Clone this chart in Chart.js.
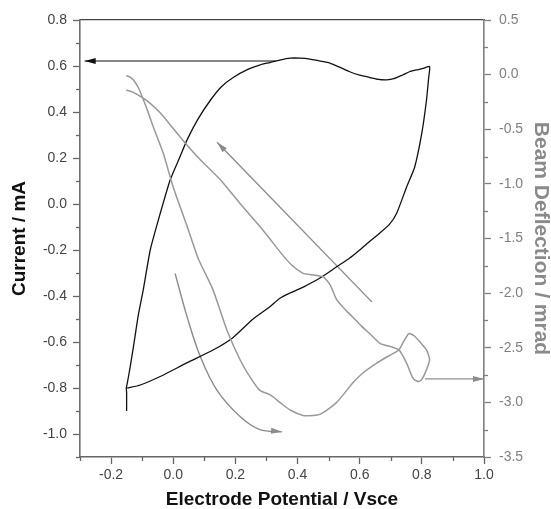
<!DOCTYPE html>
<html><head><meta charset="utf-8">
<script src="https://cdn.jsdelivr.net/npm/chart.js@4.4.0/dist/chart.umd.min.js"></script>
<style>html,body{margin:0;padding:0;background:#fff;}</style>
</head><body>
<canvas id="c" width="551" height="509" style="width:551px;height:509px;display:block"></canvas>
<script>
// ---- Data ----
// Current (left axis, mA) vs potential (V vs SCE)
const currentPotential = [-0.150,-0.150,-0.151,-0.148,-0.140,-0.128,-0.112,-0.096,-0.074,-0.050,-0.010,0.020,0.045,0.080,0.119,0.155,0.193,0.240,0.280,0.311,0.343,0.376,0.410,0.440,0.470,0.504,0.535,0.568,0.600,0.632,0.660,0.687,0.710,0.738,0.760,0.783,0.805,0.825,0.822,0.815,0.800,0.777,0.751,0.719,0.695,0.665,0.630,0.600,0.568,0.526,0.472,0.420,0.376,0.343,0.311,0.257,0.193,0.128,0.045,-0.042,-0.106,-0.148];
const currentValues    = [-0.900,-0.820,-0.800,-0.780,-0.720,-0.620,-0.480,-0.370,-0.200,-0.080,0.104,0.200,0.280,0.370,0.450,0.510,0.550,0.585,0.605,0.615,0.626,0.634,0.634,0.630,0.622,0.613,0.595,0.575,0.560,0.550,0.542,0.540,0.545,0.561,0.575,0.583,0.590,0.598,0.550,0.452,0.309,0.161,0.074,-0.040,-0.090,-0.126,-0.165,-0.200,-0.235,-0.273,-0.322,-0.360,-0.387,-0.410,-0.447,-0.500,-0.580,-0.635,-0.690,-0.750,-0.787,-0.800];
// Beam deflection (right axis, mrad) vs potential
const deflectionPotential = [-0.151,-0.140,-0.128,-0.112,-0.096,-0.080,-0.064,-0.032,0.000,0.045,0.080,0.128,0.173,0.215,0.250,0.279,0.311,0.343,0.376,0.418,0.450,0.472,0.500,0.526,0.550,0.578,0.615,0.655,0.690,0.726,0.740,0.758,0.775,0.795,0.815,0.825,0.815,0.800,0.790,0.775,0.765,0.754,0.738,0.726,0.700,0.665,0.632,0.605,0.578,0.550,0.526,0.504,0.482,0.440,0.418,0.380,0.343,0.310,0.279,0.215,0.151,0.087,0.022,-0.042,-0.080,-0.106,-0.130,-0.151];
const deflectionValues    = [-0.01,-0.02,-0.05,-0.12,-0.23,-0.35,-0.48,-0.72,-1.03,-1.39,-1.68,-1.97,-2.34,-2.61,-2.78,-2.89,-2.93,-3.00,-3.07,-3.12,-3.12,-3.11,-3.06,-3.00,-2.92,-2.82,-2.72,-2.64,-2.58,-2.52,-2.45,-2.37,-2.39,-2.45,-2.52,-2.61,-2.70,-2.79,-2.81,-2.79,-2.74,-2.66,-2.57,-2.52,-2.49,-2.46,-2.37,-2.30,-2.22,-2.14,-2.06,-1.92,-1.85,-1.83,-1.82,-1.74,-1.62,-1.50,-1.39,-1.18,-0.96,-0.78,-0.57,-0.35,-0.25,-0.20,-0.16,-0.14];
// Annotation arrows
const arrowCurrentX = [0.330,-0.285];          const arrowCurrentY = [0.622,0.622];
const arrowScanX    = [0.006,0.045,0.087,0.141,0.215,0.279,0.350]; const arrowScanY = [-1.82,-2.22,-2.58,-2.89,-3.13,-3.25,-3.27];
const arrowReturnX  = [0.639,0.141];           const arrowReturnY  = [-2.08,-0.62];
const arrowDeflX    = [0.810,1.000];           const arrowDeflY    = [-2.785,-2.785];
// Tick values
const xMajorTicks = [-0.2,0.0,0.2,0.4,0.6,0.8,1.0];
const xMinorTicks = [-0.3,-0.1,0.1,0.3,0.5,0.7,0.9];
const yLeftMajorTicks = [-1.0,-0.8,-0.6,-0.4,-0.2,0.0,0.2,0.4,0.6,0.8];
const yLeftMinorTicks = [-1.1,-0.9,-0.7,-0.5,-0.3,-0.1,0.1,0.3,0.5,0.7];
const yRightMajorTicks = [-3.5,-3.0,-2.5,-2.0,-1.5,-1.0,-0.5,0.0,0.5];
const yRightMinorTicks = [-3.25,-2.75,-2.25,-1.75,-1.25,-0.75,-0.25,0.25];

const pts = (xs, ys) => xs.map((x, i) => ({x: x, y: ys[i]}));
const FONT = "'Liberation Sans', Arial, Helvetica, sans-serif";
const BLACK = '#111111', GRAY = '#999999', ARROWGRAY = '#8c8c8c';

const arrowPlugin = {
  id: 'arrowHeads',
  afterDatasetsDraw(chart) {
    const ctx = chart.ctx;
    chart.data.datasets.forEach((ds, i) => {
      if (!ds.arrowHead) return;
      const d = chart.getDatasetMeta(i).data;
      const a = d[d.length - 2], b = d[d.length - 1];
      const ang = Math.atan2(b.y - a.y, b.x - a.x);
      const L = ds.arrowHead.length, W = ds.arrowHead.width;
      ctx.save();
      ctx.translate(b.x, b.y);
      ctx.rotate(ang);
      ctx.beginPath();
      ctx.moveTo(0, 0);
      ctx.lineTo(-L, -W / 2);
      ctx.lineTo(-L, W / 2);
      ctx.closePath();
      ctx.fillStyle = ds.borderColor;
      ctx.fill();
      ctx.restore();
    });
  }
};

const minorTickPlugin = {
  id: 'minorTicks',
  afterDraw(chart) {
    const ctx = chart.ctx, ca = chart.chartArea;
    const len = 4;
    ctx.save();
    ctx.lineWidth = 1.3;
    const sx = chart.scales.x;
    ctx.strokeStyle = '#666';
    xMinorTicks.forEach(v => {
      const p = Math.round(sx.getPixelForValue(v)) + 0.5;
      ctx.beginPath(); ctx.moveTo(p, ca.bottom); ctx.lineTo(p, ca.bottom + len); ctx.stroke();
    });
    const sy = chart.scales.y;
    yLeftMinorTicks.forEach(v => {
      const p = Math.round(sy.getPixelForValue(v)) + 0.5;
      ctx.beginPath(); ctx.moveTo(ca.left - len, p); ctx.lineTo(ca.left, p); ctx.stroke();
    });
    const sr = chart.scales.y2;
    ctx.strokeStyle = '#808080';
    yRightMinorTicks.forEach(v => {
      const p = Math.round(sr.getPixelForValue(v)) + 0.5;
      ctx.beginPath(); ctx.moveTo(ca.right, p); ctx.lineTo(ca.right + len, p); ctx.stroke();
    });
    ctx.restore();
  }
};

const lineDs = (data, color, width, axis, extra) => Object.assign({
  data: data, borderColor: color, backgroundColor: color, borderWidth: width,
  pointRadius: 0, showLine: true, fill: false, tension: 0, yAxisID: axis
}, extra || {});

new Chart(document.getElementById('c'), {
  type: 'scatter',
  data: {
    datasets: [
      lineDs(pts(deflectionPotential, deflectionValues), GRAY, 1.5, 'y2', {tension: 0.2}),
      lineDs(pts(currentPotential, currentValues), BLACK, 1.3, 'y', {tension: 0.2}),
      lineDs(pts(arrowCurrentX, arrowCurrentY), BLACK, 1.1, 'y', {arrowHead: {length: 11, width: 6}}),
      lineDs(pts(arrowScanX, arrowScanY), ARROWGRAY, 1.4, 'y2', {tension: 0.35, arrowHead: {length: 11, width: 6}}),
      lineDs(pts(arrowReturnX, arrowReturnY), ARROWGRAY, 1.4, 'y2', {arrowHead: {length: 11, width: 6}}),
      lineDs(pts(arrowDeflX, arrowDeflY), ARROWGRAY, 1.4, 'y2', {arrowHead: {length: 11, width: 6}})
    ]
  },
  options: {
    responsive: false,
    animation: false,
    devicePixelRatio: 1,
    layout: {padding: {top: 20, left: 0, right: 0, bottom: 0}},
    plugins: {legend: {display: false}, tooltip: {enabled: false}},
    scales: {
      x: {
        type: 'linear', position: 'bottom', min: -0.3, max: 1.0,
        afterBuildTicks: s => { s.ticks = xMajorTicks.map(v => ({value: v})); },
        afterFit: s => { s.height = 52; },
        ticks: {callback: v => Number(v).toFixed(1), color: '#444', font: {family: FONT, size: 14}, padding: 3, maxRotation: 0, autoSkip: false},
        grid: {drawOnChartArea: false, drawTicks: true, tickLength: 7, tickColor: '#666', tickWidth: 1.3},
        border: {color: '#666', width: 1.6},
        title: {display: true, text: 'Electrode Potential / Vsce', color: '#111', font: {family: FONT, size: 19, weight: 'bold', lineHeight: 1}, padding: {top: 0, bottom: 0}}
      },
      xTop: {
        type: 'linear', position: 'top', min: -0.3, max: 1.0,
        afterFit: s => { s.height = 0; },
        ticks: {display: false},
        grid: {drawOnChartArea: false, drawTicks: false},
        border: {color: '#444', width: 1.2}
      },
      y: {
        type: 'linear', position: 'left', min: -1.1, max: 0.8,
        afterBuildTicks: s => { s.ticks = yLeftMajorTicks.map(v => ({value: v})); },
        afterFit: s => { s.width = 80; },
        ticks: {callback: v => Number(v).toFixed(1), color: '#444', font: {family: FONT, size: 14}, padding: 6},
        grid: {drawOnChartArea: false, drawTicks: true, tickLength: 7, tickColor: '#666', tickWidth: 1.3},
        border: {color: '#707070', width: 1.6},
        title: {display: true, text: 'Current / mA', color: '#111', font: {family: FONT, size: 19, weight: 'bold', lineHeight: 1}, padding: {top: 10, bottom: 0}}
      },
      y2: {
        type: 'linear', position: 'right', min: -3.5, max: 0.5,
        afterBuildTicks: s => { s.ticks = yRightMajorTicks.map(v => ({value: v})); },
        afterFit: s => { s.width = 67; },
        ticks: {callback: v => Number(v).toFixed(1), color: '#808080', font: {family: FONT, size: 14}, padding: 8},
        grid: {drawOnChartArea: false, drawTicks: true, tickLength: 7, tickColor: '#808080', tickWidth: 1.3},
        border: {color: '#808080', width: 1.6},
        title: {display: true, text: 'Beam Deflection / mrad', color: '#8a8a8a', font: {family: FONT, size: 21, weight: 'bold', lineHeight: 1}, padding: {top: 0, bottom: 0}}
      }
    }
  },
  plugins: [arrowPlugin, minorTickPlugin]
});
</script>
</body></html>
